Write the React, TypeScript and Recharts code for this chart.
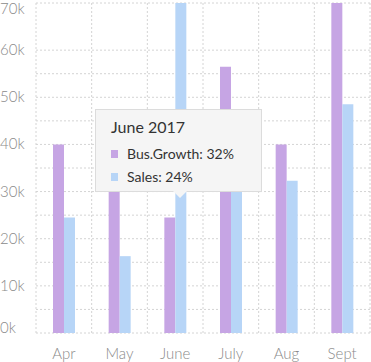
import { BarChart, Bar, XAxis, YAxis, CartesianGrid, Tooltip } from 'recharts';

const months = ['Apr', 'May', 'June', 'July', 'Aug', 'Sept'];
const growth = [40000, 30000, 24500, 56500, 40000, 70000];
const sales = [24500, 16300, 70000, 30000, 32300, 48500];
const yTicks = [0, 10000, 20000, 30000, 40000, 50000, 60000, 70000];
const gridTicks = [0, 5000, 10000, 15000, 20000, 25000, 30000, 35000, 40000, 45000, 50000, 55000, 60000, 65000, 70000];
const tipGrowth = ['28%', '30%', '32%', '35%', '29%', '40%'];
const tipSales = ['20%', '18%', '24%', '22%', '21%', '26%'];

const data = months.map((m, i) => ({
  month: m,
  growth: growth[i],
  sales: sales[i],
  tipGrowth: tipGrowth[i],
  tipSales: tipSales[i],
}));

const PURPLE = '#c6a5e4';
const BLUE = '#b7d5f7';
const FONT = 'Lato, "Open Sans", sans-serif';

function YTick({ y, payload }: any) {
  const yy = Math.min(Math.max(y, 8), 328);
  return (
    <text x={0} y={yy} dy={5} textAnchor="start" fill="#8a8a8a" fontSize={15} fontWeight={300} fontFamily={FONT}>
      {payload.value / 1000}k
    </text>
  );
}

function TipBox({ active, payload }: any) {
  if (!active || !payload || !payload.length) return null;
  const row = payload[0].payload;
  const items = [
    { name: 'Bus.Growth', value: row.tipGrowth, color: PURPLE },
    { name: 'Sales', value: row.tipSales, color: BLUE },
  ];
  return (
    <div
      style={{
        position: 'relative',
        width: 167,
        height: 83,
        boxSizing: 'border-box',
        background: '#f5f5f5',
        border: '1px solid #dcdcdc',
        padding: '7px 15px',
        fontFamily: FONT,
        color: '#333',
      }}
    >
      <div style={{ fontSize: 16, marginBottom: 6 }}>{row.month} 2017</div>
      {items.map((it) => (
        <div key={it.name} style={{ display: 'flex', alignItems: 'center', fontSize: 14, height: 23 }}>
          <span style={{ width: 7, height: 8, background: it.color, marginRight: 9 }} />
          {it.name}: {it.value}
        </div>
      ))}
      <div
        style={{
          position: 'absolute',
          left: 77,
          bottom: -7,
          width: 0,
          height: 0,
          borderLeft: '7px solid transparent',
          borderRight: '7px solid transparent',
          borderTop: '7px solid #f5f5f5',
        }}
      />
    </div>
  );
}

export default function App() {
  return (
    <div style={{ position: 'absolute', left: 0, top: 0 }}>
      <BarChart
        width={371}
        height={362}
        data={data}
        margin={{ top: 3, right: 1, left: 0, bottom: 0 }}
        barGap={0}
        barSize={11}
      >
        <CartesianGrid
          stroke="#d4d4d4"
          strokeDasharray="2 2"
          horizontalValues={gridTicks}
          verticalCoordinatesGenerator={({ offset }: any) =>
            Array.from({ length: months.length + 1 }, (_, i) => offset.left + (i * offset.width) / months.length)
          }
        />
        <XAxis
          dataKey="month"
          axisLine={false}
          tickLine={false}
          height={29}
          tick={{ fill: '#8a8a8a', fontSize: 15, fontWeight: 300, fontFamily: FONT }}
          tickMargin={9}
        />
        <YAxis
          width={36}
          domain={[0, 70000]}
          ticks={yTicks}
          axisLine={false}
          tickLine={false}
          tick={<YTick />}
        />
        <Tooltip
          content={<TipBox />}
          defaultIndex={2}
          active
          cursor={false}
          position={{ x: 95, y: 109 }}
          isAnimationActive={false}
          wrapperStyle={{ outline: 'none' }}
        />
        <Bar dataKey="growth" fill={PURPLE} isAnimationActive={false} />
        <Bar dataKey="sales" fill={BLUE} isAnimationActive={false} />
      </BarChart>
    </div>
  );
}
